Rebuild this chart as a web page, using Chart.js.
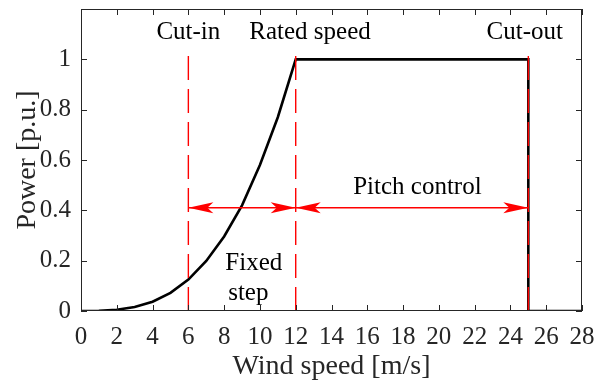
<!DOCTYPE html>
<html>
<head>
<meta charset="utf-8">
<script src="https://cdn.jsdelivr.net/npm/chart.js@4.4.1/dist/chart.umd.min.js"></script>
<style>
  html, body { margin: 0; padding: 0; background: #fff; }
</style>
</head>
<body>
<canvas id="power" width="595" height="385"></canvas>
<script>
// power curve of the turbine, per unit
const windSpeed = [0, 1, 2, 3, 4, 5, 6, 7, 8, 9, 10, 11, 12, 25, 25, 28];
const powerPu   = [0, 0.001, 0.005, 0.016, 0.037, 0.072, 0.125, 0.199, 0.296, 0.42, 0.58, 0.77, 1, 1, 0, 0];

// cut-in, rated and cut-out speeds
const markSpeeds = [6, 12, 25];
const markTop = 1.04;

// region arrows [from, to, at power]
const arrowFrom = [6, 12];
const arrowTo   = [12, 25];
const arrowAt   = 0.41;

const xTicks = [0, 2, 4, 6, 8, 10, 12, 14, 16, 18, 20, 22, 24, 26, 28];
const yTicks = [0, 0.2, 0.4, 0.6, 0.8, 1];

const serif = "'Liberation Serif', 'DejaVu Serif', serif";
const RED = "rgb(255, 0, 0)";

// text labels: [text, x, y]
const notes = [
    ["Cut-in", 6, 1.107],
    ["Rated speed", 12.8, 1.107],
    ["Cut-out", 24.8, 1.107],
    ["Pitch control", 18.8, 0.49],
    ["Fixed", 9.66, 0.19],
    ["step", 9.35, 0.07]
];

const datasets = [{
    data: windSpeed.map((v, i) => ({x: v, y: powerPu[i]})),
    borderColor: "#000",
    borderWidth: 2.6,
    pointRadius: 0,
    tension: 0,
    order: 2
}];
markSpeeds.forEach(s => {
    datasets.push({
        data: [{x: s, y: 0}, {x: s, y: markTop}],
        borderColor: RED,
        borderWidth: 1.4,
        borderDash: [24, 9],
        pointRadius: 0,
        order: 1
    });
});

function arrowHead(ctx, x, y, dir) {
    // dir = 1 points right, -1 points left
    ctx.beginPath();
    ctx.moveTo(x, y);
    ctx.lineTo(x - dir * 25, y - 5.5);
    ctx.lineTo(x - dir * 19, y);
    ctx.lineTo(x - dir * 25, y + 5.5);
    ctx.closePath();
    ctx.fill();
}

const decor = {
    id: "decor",
    afterDraw(chart) {
        const ctx = chart.ctx;
        const xs = chart.scales.x, ys = chart.scales.y;
        const a = chart.chartArea;
        ctx.save();

        // frame with inward ticks on all four sides
        ctx.strokeStyle = "#262626";
        ctx.lineWidth = 1;
        ctx.strokeRect(a.left + 0.5, a.top + 0.5, a.right - a.left - 1, a.bottom - a.top - 1);
        ctx.beginPath();
        xTicks.forEach(t => {
            const px = Math.round(xs.getPixelForValue(t)) + 0.5;
            ctx.moveTo(px, a.bottom); ctx.lineTo(px, a.bottom - 6);
            ctx.moveTo(px, a.top); ctx.lineTo(px, a.top + 6);
        });
        yTicks.forEach(t => {
            const py = Math.round(ys.getPixelForValue(t)) + 0.5;
            ctx.moveTo(a.left, py); ctx.lineTo(a.left + 6, py);
            ctx.moveTo(a.right, py); ctx.lineTo(a.right - 6, py);
        });
        ctx.stroke();

        // double arrows
        ctx.strokeStyle = RED;
        ctx.fillStyle = RED;
        ctx.lineWidth = 1.5;
        const ay = ys.getPixelForValue(arrowAt);
        arrowFrom.forEach((f, i) => {
            const x1 = xs.getPixelForValue(f), x2 = xs.getPixelForValue(arrowTo[i]);
            ctx.beginPath();
            ctx.moveTo(x1, ay); ctx.lineTo(x2, ay);
            ctx.stroke();
            arrowHead(ctx, x1, ay, -1);
            arrowHead(ctx, x2, ay, 1);
        });

        // labels
        ctx.fillStyle = "#000";
        ctx.font = "25px " + serif;
        ctx.textAlign = "center";
        ctx.textBaseline = "middle";
        notes.forEach(n => {
            ctx.fillText(n[0], xs.getPixelForValue(n[1]), ys.getPixelForValue(n[2]));
        });
        ctx.restore();
    }
};

new Chart(document.getElementById("power"), {
    type: "line",
    data: { datasets: datasets },
    options: {
        responsive: false,
        animation: false,
        devicePixelRatio: 1,
        layout: { padding: { left: 2, right: 13, top: 9, bottom: 2 } },
        plugins: { legend: { display: false }, tooltip: { enabled: false } },
        scales: {
            x: {
                type: "linear",
                min: 0, max: 28,
                afterBuildTicks: s => { s.ticks = xTicks.map(v => ({value: v})); },
                afterFit: s => { s.height = 72; s.paddingLeft = 0; s.paddingRight = 0; },
                grid: { display: false, drawTicks: false },
                border: { display: false },
                ticks: { color: "#262626", font: { family: serif, size: 25 }, padding: 11, maxRotation: 0,
                         callback: v => String(v) },
                title: { display: true, text: "Wind speed [m/s]", color: "#262626",
                         font: { family: serif, size: 28 }, padding: { top: 0, bottom: 0 } }
            },
            y: {
                type: "linear",
                min: 0, max: 1.2,
                afterBuildTicks: s => { s.ticks = yTicks.map(v => ({value: v})); },
                afterFit: s => { s.width = 79; s.paddingTop = 0; s.paddingBottom = 0; },
                grid: { display: false, drawTicks: false },
                border: { display: false },
                ticks: { color: "#262626", font: { family: serif, size: 25 }, padding: 10,
                         callback: v => String(v) },
                title: { display: true, text: "Power [p.u.]", color: "#262626",
                         font: { family: serif, size: 28 }, padding: { top: 9, bottom: 0 } }
            }
        }
    },
    plugins: [decor]
});
</script>
</body>
</html>
